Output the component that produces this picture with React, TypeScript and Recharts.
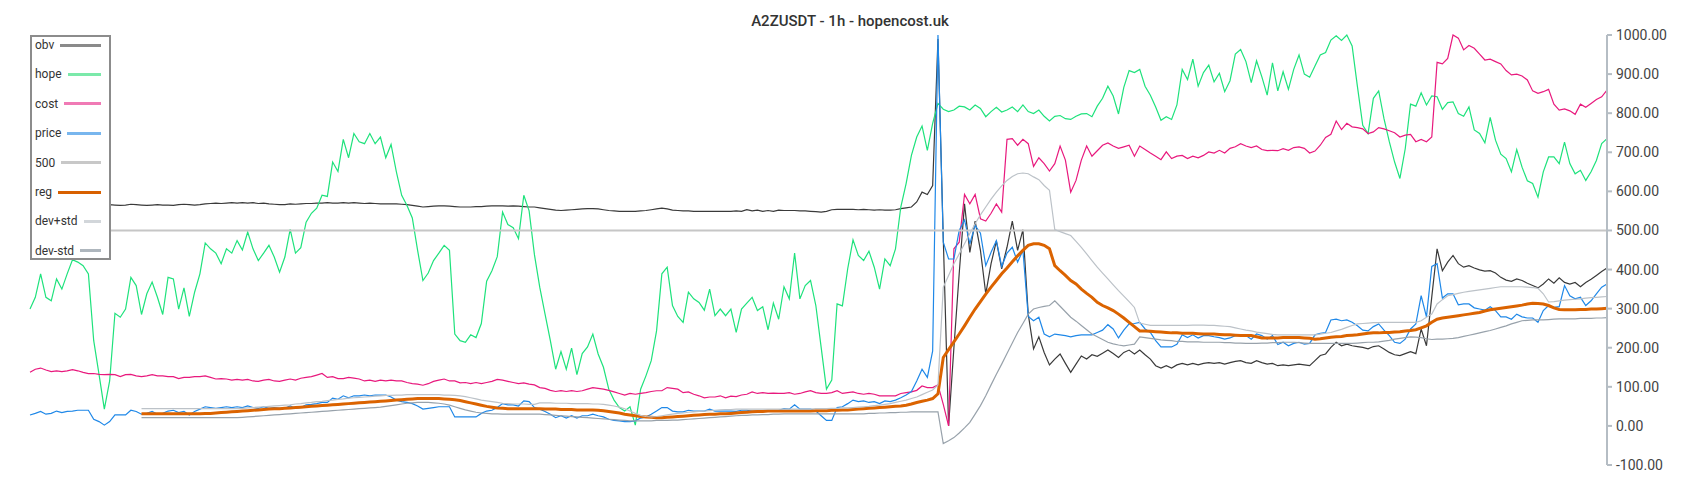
import React from 'react'
import { LineChart, Line, XAxis, YAxis } from 'recharts'

// hourly samples, index 0..297
const OBV = [
  565, 566, 564, 565, 566, 565, 564, 566, 565, 564, 566, 567, 565, 564, 565, 566, 565, 564, 565, 567,
  566, 565, 564, 565, 566, 565, 565, 564, 566, 567, 566, 565, 566, 568, 569, 570, 569, 570, 571, 570,
  571, 570, 571, 569, 570, 568, 567, 566,
  566, 568, 567, 568, 569, 569, 570, 570, 571, 570, 570, 571, 570, 571, 570, 569, 570, 569, 568, 568,
  568, 568, 567, 566, 564, 562, 560, 561, 562, 563, 563, 562, 561, 560, 560, 560, 561, 561, 562, 563,
  563, 563, 562, 563, 562, 561, 560, 560,
  558, 556, 554, 552, 551, 552, 553, 554, 555, 556, 556, 555, 553, 551, 550, 549, 549, 549, 549, 550,
  551, 553, 555, 557, 555, 552, 551, 550, 550, 549, 549, 549, 549, 549, 549, 549, 549, 550, 549, 553,
  550, 552, 549, 551, 549, 552, 551,
  551, 551, 550, 550, 549, 548, 547, 549, 553, 554, 554, 554, 554, 553, 554, 553, 552, 553, 552, 552,
  553, 556, 558, 560, 573, 598, 592, 615,
  990, 480, 0, 200, 390, 568, 444, 524, 449, 338, 415, 473, 402, 457, 524, 449, 502, 286, 197, 228,
  188, 156, 171, 184, 160, 137, 158, 179, 171, 182, 178, 186, 194, 185, 175, 188, 194, 184, 194, 182,
  171, 154, 148, 154, 148, 156, 160, 156, 160, 156, 160, 162, 160, 162, 158, 162, 165, 167, 162, 160,
  167, 162, 158, 160, 154, 156, 154, 156,
  158, 156, 154, 167, 180, 184, 201, 214, 205, 209, 205, 203, 201, 197, 203, 205, 197, 188, 182, 180,
  185, 190, 185, 248, 205, 330, 453, 397, 419, 436, 415, 406, 410, 404, 399, 396, 397, 391, 380, 373,
  370, 376, 372, 365, 359, 353, 363, 376, 365, 379, 367, 363, 367, 356, 367, 375, 385, 395, 404
]

const HOPE = [
  299, 329, 389, 329, 320, 376, 350, 389, 425, 419, 410, 389, 218, 132, 43, 115, 288, 278, 299, 380,
  359, 285, 338, 368, 329, 285, 380, 376, 299, 353, 280, 342, 389, 468, 453, 442, 415, 453, 442, 474,
  450, 496, 453, 423, 442, 462, 432, 393,
  432, 503, 442, 456, 521, 544, 557, 590, 587, 675, 651, 733, 686, 748, 727, 722, 748, 722, 739, 686,
  720, 650, 590, 564, 532, 449, 372, 391, 423, 442, 462, 449, 235, 218, 214, 233, 226, 262, 370, 397,
  433, 547, 515, 507, 479, 590, 550, 438,
  355, 286, 218, 145, 190, 145, 199, 131, 185, 202, 235, 184, 150, 94, 66, 47, 38, 49, 2, 94,
  128, 167, 243, 389, 406, 308, 280, 265, 342, 325, 316, 296, 350, 282, 299, 282, 299, 239, 299, 314,
  329, 295, 305, 246, 314, 273, 356,
  325, 442, 325, 359, 372, 308, 201, 94, 117, 312, 307, 402, 476, 436, 423, 447, 406, 350, 427, 410,
  453, 560, 620, 692, 739, 767, 705, 774, 825, 810, 804, 808, 818, 816, 808, 821, 812, 791, 804, 815,
  803, 808, 816, 804, 821, 804, 799, 808,
  792, 780, 792, 794, 786, 784, 792, 798, 799, 791, 818, 838, 869, 844, 798, 866, 909, 904, 912, 869,
  846, 816, 782, 791, 784, 821, 912, 886, 938, 869, 904, 923, 880, 902, 855, 883, 951, 963, 932, 878,
  934, 893, 846, 929, 857, 906, 861,
  912, 949, 900, 892, 921, 949, 955, 987, 998, 986, 1000, 972, 868, 769, 748, 838, 857, 786, 727, 675,
  633, 709, 823, 818, 852, 821, 844, 842, 810, 827, 829, 799, 792, 816, 757, 748, 724, 789, 731, 695,
  684, 650, 707, 662, 627, 620, 585, 650, 688, 688, 671, 726, 671, 645, 654, 628, 650, 679, 722, 735
]

const COST = [
  137, 145, 148, 143, 139, 141, 139, 141, 144, 141, 137, 134, 134, 132, 131, 132, 131, 126, 131, 132,
  128, 126, 128, 131, 128, 128, 126, 126, 121, 124, 124, 126, 126, 128, 124, 120, 121, 120, 117, 119,
  117, 119, 115, 114, 117, 119, 115, 114,
  117, 120, 117, 122, 124, 126, 130, 134, 124, 126, 121, 121, 124, 122, 120, 115, 117, 114, 117, 115,
  117, 115, 115, 111, 108, 107, 104, 108, 114, 117, 120, 115, 115, 110, 111, 108, 111, 108, 111, 114,
  119, 117, 114, 111, 108, 110, 107, 105,
  98, 96, 91, 88, 90, 88, 90, 88, 90, 94, 98, 96, 94, 91, 87, 83, 79, 83, 81, 83,
  85, 88, 90, 90, 98, 96, 94, 85, 87, 81, 77, 72, 74, 74, 77, 72, 76, 75, 79, 81,
  87, 83, 85, 83, 84, 83, 83,
  85, 81, 83, 87, 90, 85, 83, 83, 85, 90, 83, 85, 87, 83, 81, 83, 81, 77, 77, 77,
  77, 83, 85, 87, 91, 102, 98, 98, 105, 55, 0, 453, 470, 592, 568, 592, 530, 524, 544, 568,
  547, 733, 735, 718, 733, 722, 664, 686,
  671, 652, 671, 716, 680, 598, 628, 680, 716, 690, 704, 718, 724, 716, 710, 714, 718, 690, 716, 707,
  698, 690, 681, 701, 684, 690, 692, 684, 690, 686, 692, 701, 698, 705, 698, 710, 714, 722, 716, 712,
  716, 707, 704, 705, 704, 709, 705,
  712, 714, 710, 698, 703, 718, 738, 746, 780, 758, 774, 765, 763, 760, 748, 752, 763, 760, 755, 750,
  739, 744, 746, 727, 733, 727, 739, 930, 926, 940, 1000, 992, 962, 973, 966, 951, 936, 938, 932, 926,
  909, 898, 900, 895, 885, 857, 851, 855, 861, 823, 808, 811, 806, 797, 823, 815, 825, 835, 842, 859
]

const PRICE = [
  28, 32, 37, 30, 32, 38, 34, 37, 38, 40, 40, 40, 17, 11, 2, 11, 28, 28, 28, 40,
  37, 30, 32, 37, 30, 32, 38, 40, 34, 37, 28, 37, 43, 49, 47, 45, 47, 49, 47, 49,
  47, 51, 47, 45, 49, 45, 47, 45,
  45, 51, 45, 47, 54, 55, 57, 60, 60, 71, 68, 77, 72, 77, 77, 79, 77, 79, 79, 79,
  74, 66, 62, 60, 57, 51, 43, 45, 47, 49, 49, 49, 23, 23, 23, 23, 23, 32, 38, 40,
  47, 57, 54, 54, 51, 64, 62, 47,
  43, 37, 30, 21, 26, 20, 26, 20, 26, 26, 30, 26, 23, 17, 14, 13, 11, 11, 13, 20,
  23, 30, 38, 47, 47, 38, 36, 36, 40, 38, 38, 38, 43, 38, 38, 38, 38, 37, 40, 40,
  38, 38, 37, 37, 38, 40, 44,
  43, 54, 43, 43, 43, 38, 26, 14, 14, 47, 49, 57, 66, 62, 64, 60, 62, 57, 64, 62,
  66, 72, 79, 88, 115, 145, 124, 192, 1000, 470, 427, 427, 500, 527, 466, 513, 493, 410, 444, 474,
  408, 442, 457, 419, 449, 280, 269, 278,
  235, 228, 235, 233, 231, 228, 231, 233, 233, 233, 239, 245, 259, 248, 225, 245, 261, 262, 265, 248,
  239, 218, 202, 202, 202, 209, 233, 226, 233, 225, 231, 231, 228, 226, 222, 225, 231, 233, 231, 222,
  235, 231, 222, 231, 208, 214, 205,
  211, 214, 209, 211, 233, 237, 239, 271, 273, 269, 271, 265, 256, 245, 243, 254, 261, 245, 231, 214,
  211, 222, 248, 261, 333, 279, 408, 415, 327, 338, 338, 310, 312, 312, 302, 299, 296, 305, 295, 279,
  279, 273, 286, 279, 276, 276, 265, 295, 308, 303, 305, 359, 333, 325, 329, 308, 320, 338, 355, 363
]

// reg and the two bands only start at this index
const BAND_START = 21

const REG = [
  31, 31, 31, 31, 31, 31, 31, 31, 31, 31, 31, 31, 32, 32, 33, 34, 35, 36, 37, 38,
  39, 40, 41, 42, 43, 44, 44, 45, 46, 47, 48, 49, 50, 51, 52, 53, 54, 55, 56, 57,
  58, 59, 60, 61, 62, 63, 64, 65, 66, 67, 68, 69, 70, 70, 70, 70, 70, 69, 68, 67,
  65, 62, 59, 56, 53, 50, 48, 46, 45, 44, 44, 44, 44, 44, 44,
  44, 43, 43, 43, 42, 42, 42, 41, 41, 41, 41, 40, 39, 37, 35, 33, 30, 28, 26, 24,
  23, 22, 21, 21, 22, 23, 24, 25, 26, 27, 28, 29, 30, 30, 31, 31, 32, 33, 34, 35,
  36, 37, 37, 38, 38, 38, 38,
  38, 38, 38, 38, 38, 39, 39, 39, 40, 40, 41, 41, 42, 43, 44, 45, 46, 47, 48, 49,
  50, 51, 53, 56, 60, 63, 66, 70, 82,
  175, 195, 215, 235, 256, 278, 299, 318, 337, 355, 372, 389, 404, 420, 435, 449, 462, 466, 466,
  462, 453, 410, 397, 385, 372, 363, 350, 339, 329, 316, 308, 302, 295, 286, 276, 265, 254, 243, 243,
  242, 241, 240, 239, 238, 238, 237, 237, 237, 236, 235, 235, 235, 234, 233, 233, 232, 231, 231, 231,
  228, 225, 225, 225, 225, 226, 226, 226,
  226, 225, 224, 222, 223, 225, 227, 228, 229, 231, 232, 233, 235, 237, 238, 238, 239, 239, 240, 241,
  243, 244, 246, 251, 256, 265, 273, 276, 278, 280, 282, 284, 286, 288, 290, 294, 297, 299, 301, 303,
  305, 307, 309, 312, 314, 313, 312, 308, 302, 298, 297, 297, 297, 298, 298, 299, 299, 300, 301
]

const DEV_PLUS = [
  44, 44, 44, 44, 44, 44, 44, 44, 44, 44, 44, 44, 44, 44, 44, 44, 44, 44, 44,
  45, 46, 47, 48, 49, 50, 51, 52, 53, 54, 56, 57, 59, 60, 62, 63, 65, 66, 68, 69,
  71, 72, 73, 74, 75, 76, 77, 78, 78, 79, 79, 80, 80, 80, 80, 80, 80, 80, 79, 79,
  78, 77, 75, 72, 69, 66, 64, 62, 60, 58, 57, 56, 56, 56, 55, 55,
  59, 59, 59, 58, 58, 58, 57, 57, 57, 57, 56, 56, 55, 53, 51, 48, 44, 38, 32, 27,
  24, 23, 24, 26, 28, 30, 32, 33, 35, 36, 37, 38, 39, 40, 41, 42, 42, 43, 43, 43,
  43, 43, 43, 43, 43, 43, 43,
  43, 43, 43, 43, 43, 44, 44, 44, 45, 45, 46, 46, 47, 48, 49, 50, 52, 53, 55, 57,
  60, 63, 66, 70, 74, 80, 86, 92, 105,
  355, 385, 415, 440, 466, 492, 517, 540, 560, 580, 598, 614, 628, 638, 645, 647, 645, 637, 630,
  615, 603, 502, 497, 492, 487, 472, 457, 440, 423, 406, 391, 376, 361, 346, 332, 318, 303, 263, 260,
  257, 257, 257, 257, 257, 257, 257, 257, 258, 258, 258, 257, 257, 256, 255, 254, 251, 248, 245, 243,
  240, 238, 236, 234, 233, 233, 233, 233,
  233, 233, 233, 233, 235, 237, 239, 243, 247, 252, 257, 261, 262, 263, 264, 264, 265, 265, 265, 265,
  265, 265, 265, 269, 278, 286, 312, 323, 333, 336, 339, 342, 344, 346, 348, 350, 352, 354, 356, 356,
  356, 356, 356, 355, 354, 352, 338, 317, 318, 320, 322, 323, 324, 325, 327, 328, 329, 330, 331
]

const DEV_MINUS = [
  21, 21, 21, 21, 21, 21, 21, 21, 21, 21, 21, 21, 21, 21, 21, 21, 21, 21, 21,
  22, 23, 24, 25, 26, 27, 28, 29, 30, 31, 32, 33, 34, 35, 36, 37, 38, 39, 40, 41,
  42, 43, 44, 45, 46, 47, 48, 50, 52, 54, 56, 58, 59, 60, 60, 60, 59, 58, 56, 53,
  49, 45, 41, 38, 35, 33, 32, 31, 31, 30, 30, 30, 30, 30, 30, 30,
  30, 29, 28, 27, 26, 25, 24, 23, 22, 21, 20, 19, 18, 17, 16, 15, 14, 13, 13, 13,
  13, 13, 14, 14, 14, 15, 15, 16, 17, 18, 19, 20, 21, 22, 23, 24, 25, 26, 27, 27,
  28, 28, 29, 29, 30, 30, 31,
  31, 31, 31, 31, 31, 31, 31, 31, 31, 31, 31, 31, 31, 31, 31, 32, 32, 33, 33, 34,
  34, 35, 35, 36, 36, 36, 36, 36, 36,
  -45, -38, -30, -18, -5, 9, 30, 52, 77, 105, 132, 158, 185, 212, 239, 262, 286, 299, 303,
  306, 308, 320, 306, 292, 278, 268, 257, 246, 235, 228, 221, 214, 210, 207, 205, 207, 209, 228, 226,
  224, 222, 220, 219, 218, 216, 216, 215, 215, 215, 214, 214, 214, 214, 213, 213, 212, 212, 211, 211,
  211, 212, 212, 213, 213, 214, 214, 214,
  213, 212, 211, 211, 211, 211, 211, 211, 211, 211, 211, 212, 213, 214, 214, 215, 217, 219, 222, 224,
  226, 228, 227, 226, 223, 221, 222, 222, 223, 224, 226, 229, 232, 235, 238, 241, 244, 248, 252, 256,
  261, 265, 269, 270, 271, 271, 271, 272, 273, 274, 274, 274, 274, 275, 275, 275, 276, 276, 277
]

const LEVEL = 500
const Y_TICKS = [-100, 0, 100, 200, 300, 400, 500, 600, 700, 800, 900, 1000]

const SERIES = [
  { key: 'obv', name: 'obv', color: '#3a3a3a', width: 1.2, swatch: '#8a8a8a' },
  { key: 'hope', name: 'hope', color: '#1ee27c', width: 1.2, swatch: '#7be9aa' },
  { key: 'cost', name: 'cost', color: '#e8197d', width: 1.2, swatch: '#f07ab5' },
  { key: 'price', name: 'price', color: '#1f88e8', width: 1.2, swatch: '#78b6ee' },
  { key: 'level', name: '500', color: '#c6c6c6', width: 2, swatch: '#c8c8c8' },
  { key: 'reg', name: 'reg', color: '#db6300', width: 3, swatch: '#d86000' },
  { key: 'devPlus', name: 'dev+std', color: '#bcc2c8', width: 1.2, swatch: '#d2d6da' },
  { key: 'devMinus', name: 'dev-std', color: '#98a2ab', width: 1.2, swatch: '#aeb6bd' }
]

const data = HOPE.map((hope, i) => ({
  i,
  obv: OBV[i],
  hope,
  cost: COST[i],
  price: PRICE[i],
  level: LEVEL,
  reg: i < BAND_START ? null : REG[i - BAND_START],
  devPlus: i < BAND_START ? null : DEV_PLUS[i - BAND_START],
  devMinus: i < BAND_START ? null : DEV_MINUS[i - BAND_START]
}))

function ChartLegend() {
  return (
    <div
      style={{
        position: 'absolute',
        left: 30,
        top: 35,
        width: 81,
        height: 225,
        boxSizing: 'border-box',
        border: '2px solid #8c8c8c',
        background: '#fff'
      }}
    >
      {SERIES.map((s, k) => (
        <div
          key={s.key}
          style={{
            position: 'absolute',
            left: 3,
            width: 66,
            top: k * 29.4,
            height: 16,
            display: 'flex',
            alignItems: 'center',
            fontSize: 12,
            color: '#333'
          }}
        >
          <span>{s.name}</span>
          <span style={{ flex: 1, marginLeft: 6, height: 3, background: s.swatch }} />
        </div>
      ))}
    </div>
  )
}

export default function App() {
  return (
    <div
      style={{
        position: 'fixed',
        left: 0,
        top: 0,
        width: 1700,
        height: 500,
        background: '#fff',
        fontFamily: 'Roboto, sans-serif'
      }}
    >
      <div style={{ position: 'absolute', left: 0, top: 0 }}>
        <LineChart width={1700} height={500} data={data} margin={{ top: 35, right: 23, bottom: 35, left: 30 }}>
          <XAxis dataKey="i" type="number" domain={[0, HOPE.length - 1]} hide />
          <YAxis
            orientation="right"
            domain={[-100, 1000]}
            ticks={Y_TICKS}
            width={70}
            tickFormatter={(v: number) => v.toFixed(2)}
            tick={{ fill: '#444', fontSize: 14 }}
            axisLine={{ stroke: '#b5bdc4', strokeWidth: 2 }}
            tickLine={{ stroke: '#b5bdc4', strokeWidth: 2 }}
            tickSize={5}
            tickMargin={4}
          />
          {SERIES.map((s) => (
            <Line
              key={s.key}
              type="linear"
              dataKey={s.key}
              stroke={s.color}
              strokeWidth={s.width}
              dot={false}
              activeDot={false}
              connectNulls={false}
              isAnimationActive={false}
            />
          ))}
        </LineChart>
      </div>
      <div
        style={{
          position: 'absolute',
          left: 0,
          top: 12,
          width: 1700,
          textAlign: 'center',
          fontSize: 15,
          fontWeight: 500,
          color: '#333'
        }}
      >
        A2ZUSDT - 1h - hopencost.uk
      </div>
      <ChartLegend />
    </div>
  )
}
